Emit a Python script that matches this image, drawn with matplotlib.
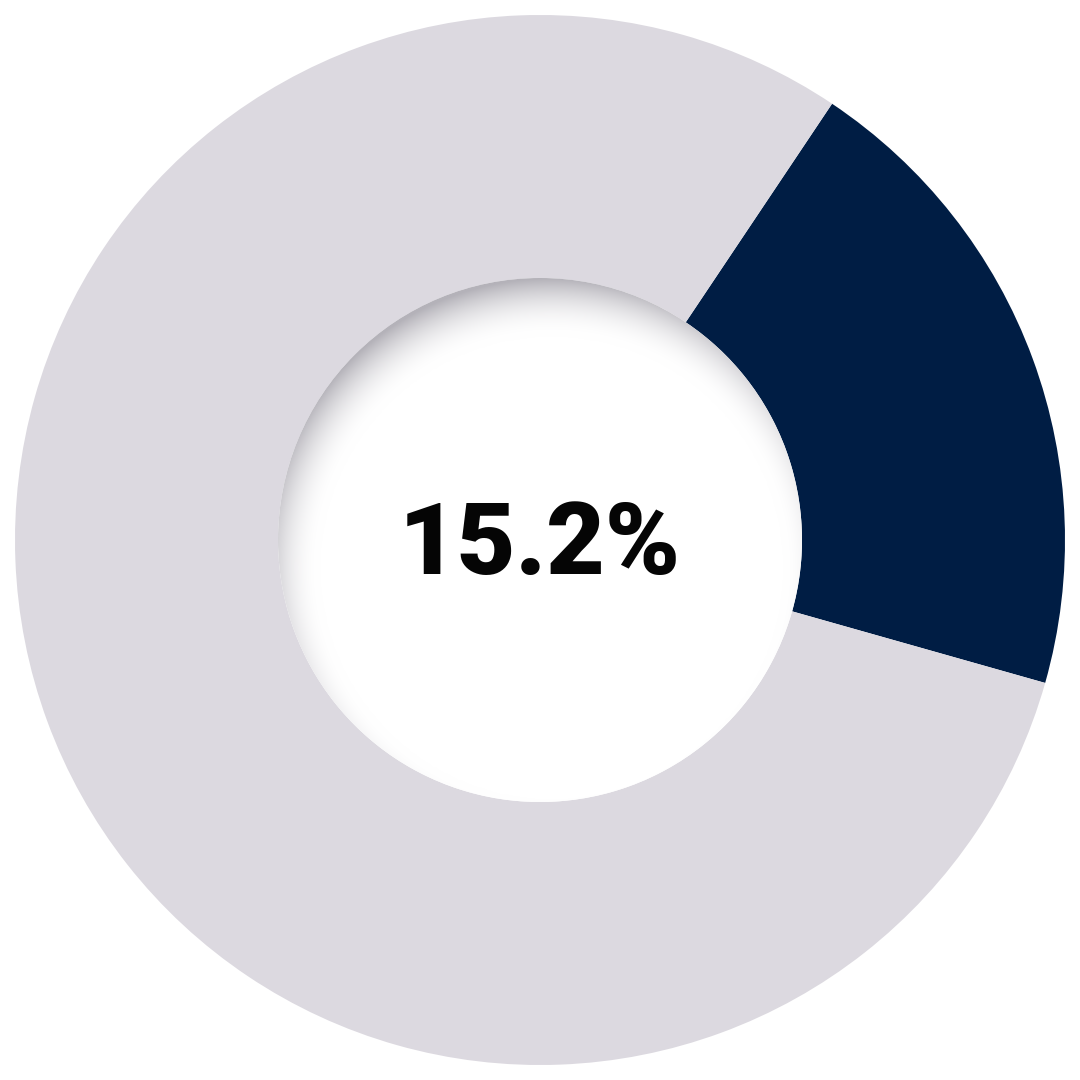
import numpy as np
import matplotlib.pyplot as plt
from matplotlib.patches import Circle
from matplotlib.colors import to_rgb

# share shown as the dark wedge, remainder in grey
shares = [20, 80]
colors = ["#001D44", "#DCD9E0"]
label = "15.2%"

outer_r = 525
inner_r = 262

fig = plt.figure(figsize=(10.8, 10.8), dpi=100)
ax = fig.add_axes([0, 0, 1, 1])
ax.pie(shares, colors=colors, startangle=56.2, counterclock=False,
       radius=outer_r, center=(0, 0),
       wedgeprops=dict(width=outer_r - inner_r, linewidth=0))

# hole with an inset shadow on its upper-left rim
n = 600
xs = np.linspace(-inner_r, inner_r, n)
X, Y = np.meshgrid(xs, xs[::-1])
s = np.hypot(X - 12, Y + 28) - inner_r
shade = np.clip((s + 30) / 58, 0, 1) ** 2
white = np.array([1.0, 1.0, 1.0])
dark = np.array(to_rgb("#B4B2B9"))
img = white + (dark - white) * shade[..., None]
hole = Circle((0, 0), inner_r, transform=ax.transData, facecolor="none", edgecolor="none")
ax.add_patch(hole)
im = ax.imshow(img, extent=(-inner_r, inner_r, -inner_r, inner_r), zorder=3, interpolation="bilinear")
im.set_clip_path(hole)

ax.text(0, -34, label, ha="center", va="baseline", fontsize=73,
        fontfamily="Roboto", fontweight="black", color="#050505", zorder=4)

ax.set_xlim(-540, 540)
ax.set_ylim(-540, 540)
ax.set_aspect("equal")
ax.axis("off")
fig.savefig("out.png", dpi=100)
